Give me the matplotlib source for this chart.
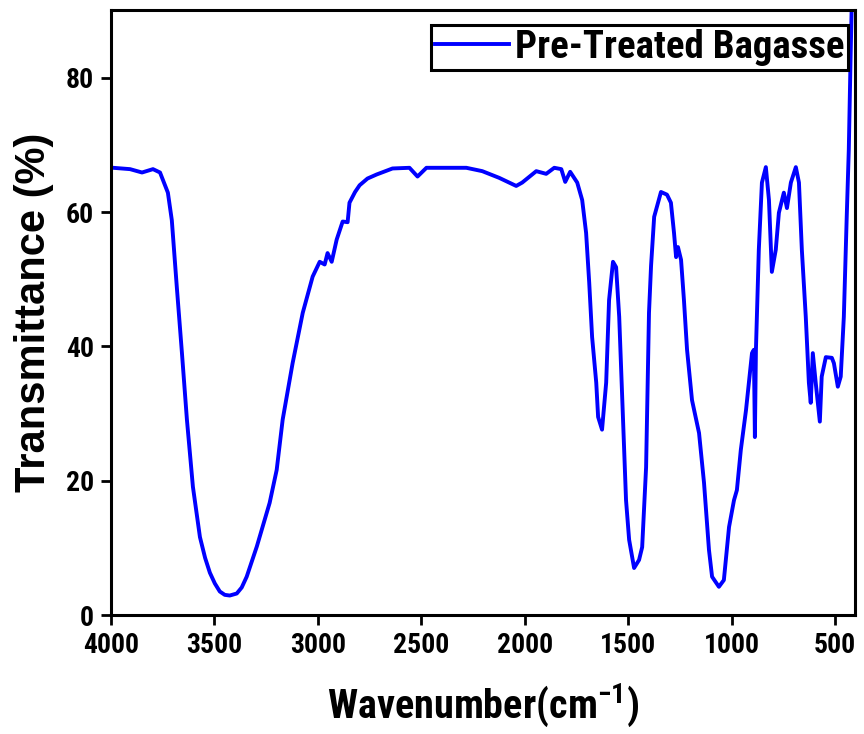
import matplotlib
matplotlib.use("Agg")
import matplotlib.pyplot as plt
from matplotlib import font_manager

# ---- data ----
wavenumber = [4000, 3990, 3908, 3850, 3797, 3763, 3725, 3706, 3682, 3657, 3633, 3604,
              3570, 3545, 3522, 3498, 3474, 3450, 3426, 3392, 3368, 3344, 3295, 3233, 3199, 3170, 3122, 3073,
              3025, 2991, 2967, 2953, 2933, 2909, 2880, 2856, 2847, 2820, 2798, 2760, 2716, 2639,
              2557, 2518, 2475, 2364, 2282, 2205, 2123, 2041, 2012, 1944, 1896, 1857,
              1823, 1804, 1780, 1746, 1722, 1703, 1688, 1674, 1654, 1645, 1626, 1606,
              1592, 1573, 1558, 1543, 1529, 1510, 1495, 1471, 1447, 1432, 1413, 1405,
              1399, 1389, 1374, 1341, 1312, 1293, 1278, 1268, 1259, 1244, 1230, 1215,
              1191, 1157, 1133, 1109, 1094, 1061, 1037, 1012, 988, 974, 955, 930,
              901, 892, 887, 882, 868, 853, 834, 819, 805, 786, 771, 747,
              732, 713, 689, 674, 660, 641, 626, 617, 607, 593, 573, 564,
              544, 515, 505, 486, 472, 457, 443, 433, 425, 418]
transmittance = [66.6, 66.6, 66.4, 65.9, 66.4, 65.9, 62.9, 58.8, 48.9, 39.0, 29.1, 19.1,
                 11.6, 8.5, 6.3, 4.7, 3.5, 3.0, 2.9, 3.2, 4.1, 5.7, 10.2, 16.7, 21.6, 29.1, 37.5, 45.0,
                 50.4, 52.6, 52.2, 53.9, 52.6, 55.9, 58.6, 58.5, 61.4, 63.0, 64.0, 65.0, 65.6, 66.5,
                 66.6, 65.3, 66.6, 66.6, 66.6, 66.1, 65.1, 63.9, 64.4, 66.1, 65.7, 66.6,
                 66.4, 64.5, 66.0, 64.4, 61.8, 56.9, 49.5, 41.4, 34.6, 29.5, 27.6, 34.6,
                 46.9, 52.6, 51.8, 44.4, 33.0, 17.1, 11.2, 7.0, 8.2, 10.1, 22.0, 35.0,
                 45.0, 52.0, 59.3, 63.0, 62.6, 61.4, 56.9, 53.3, 54.8, 52.9, 46.9, 39.5,
                 32.0, 27.1, 19.7, 9.7, 5.7, 4.2, 5.2, 13.1, 17.1, 18.6, 24.6, 30.5,
                 39.0, 39.5, 26.5, 39.5, 54.4, 64.4, 66.7, 61.8, 51.1, 54.4, 59.9, 62.9,
                 60.6, 64.4, 66.7, 64.4, 54.4, 44.4, 34.6, 31.6, 39.0, 34.6, 28.8, 35.5,
                 38.4, 38.3, 37.5, 34.0, 35.5, 44.4, 59.3, 69.3, 82.0, 92.0]
series_label = "Pre-Treated Bagasse"
x_ticks = [4000, 3500, 3000, 2500, 2000, 1500, 1000, 500]
y_ticks = [0, 20, 40, 60, 80]

# ---- fonts ----
names = {f.name for f in font_manager.fontManager.ttflist}
narrow = "Roboto Condensed" if "Roboto Condensed" in names else "Liberation Sans"
wide = "Liberation Sans"
plt.rcParams["mathtext.fontset"] = "custom"
plt.rcParams["mathtext.rm"] = narrow + ":bold"
plt.rcParams["mathtext.bf"] = narrow + ":bold"
plt.rcParams["mathtext.default"] = "regular"

fig = plt.figure(figsize=(8.64, 7.34), dpi=100)
ax = fig.add_axes([111 / 864, 1 - 615 / 734, 744 / 864, 605 / 734])

ax.plot(wavenumber, transmittance, color="#0000FF", lw=2.8, label=series_label,
        solid_joinstyle="round")

ax.set_xlim(4000, 403)
ax.set_ylim(0, 90.1)
ax.set_xticks(x_ticks)
ax.set_yticks(y_ticks)

for sp in ax.spines.values():
    sp.set_linewidth(2.2)
    sp.set_color("black")

ax.tick_params(axis="both", direction="out", length=7.5, width=2.0, color="black")
ax.tick_params(axis="x", pad=5)
ax.tick_params(axis="y", pad=5)
for lab in ax.get_xticklabels() + ax.get_yticklabels():
    lab.set_fontfamily(narrow)
    lab.set_fontweight("bold")
    lab.set_fontsize(20)

ax.set_xlabel("Wavenumber(cm$^{-1}$)", fontfamily=narrow, fontweight="bold", fontsize=29)
ax.xaxis.set_label_coords(0.5, -0.11)
ax.xaxis.label.set_va("top")
ax.set_ylabel("Transmittance (%)", fontfamily=wide, fontweight="bold", fontsize=30)
ax.yaxis.set_label_coords(-0.077, 0.5)

leg = ax.legend(loc="upper right", bbox_to_anchor=(0.9906, 0.975), borderaxespad=0,
                prop={"family": narrow, "weight": "bold", "size": 28},
                frameon=True, fancybox=False, framealpha=1, edgecolor="black",
                borderpad=0.1, handlelength=1.9, handletextpad=0.15)
leg.get_frame().set_linewidth(2.2)

fig.savefig("out.png", dpi=100)
